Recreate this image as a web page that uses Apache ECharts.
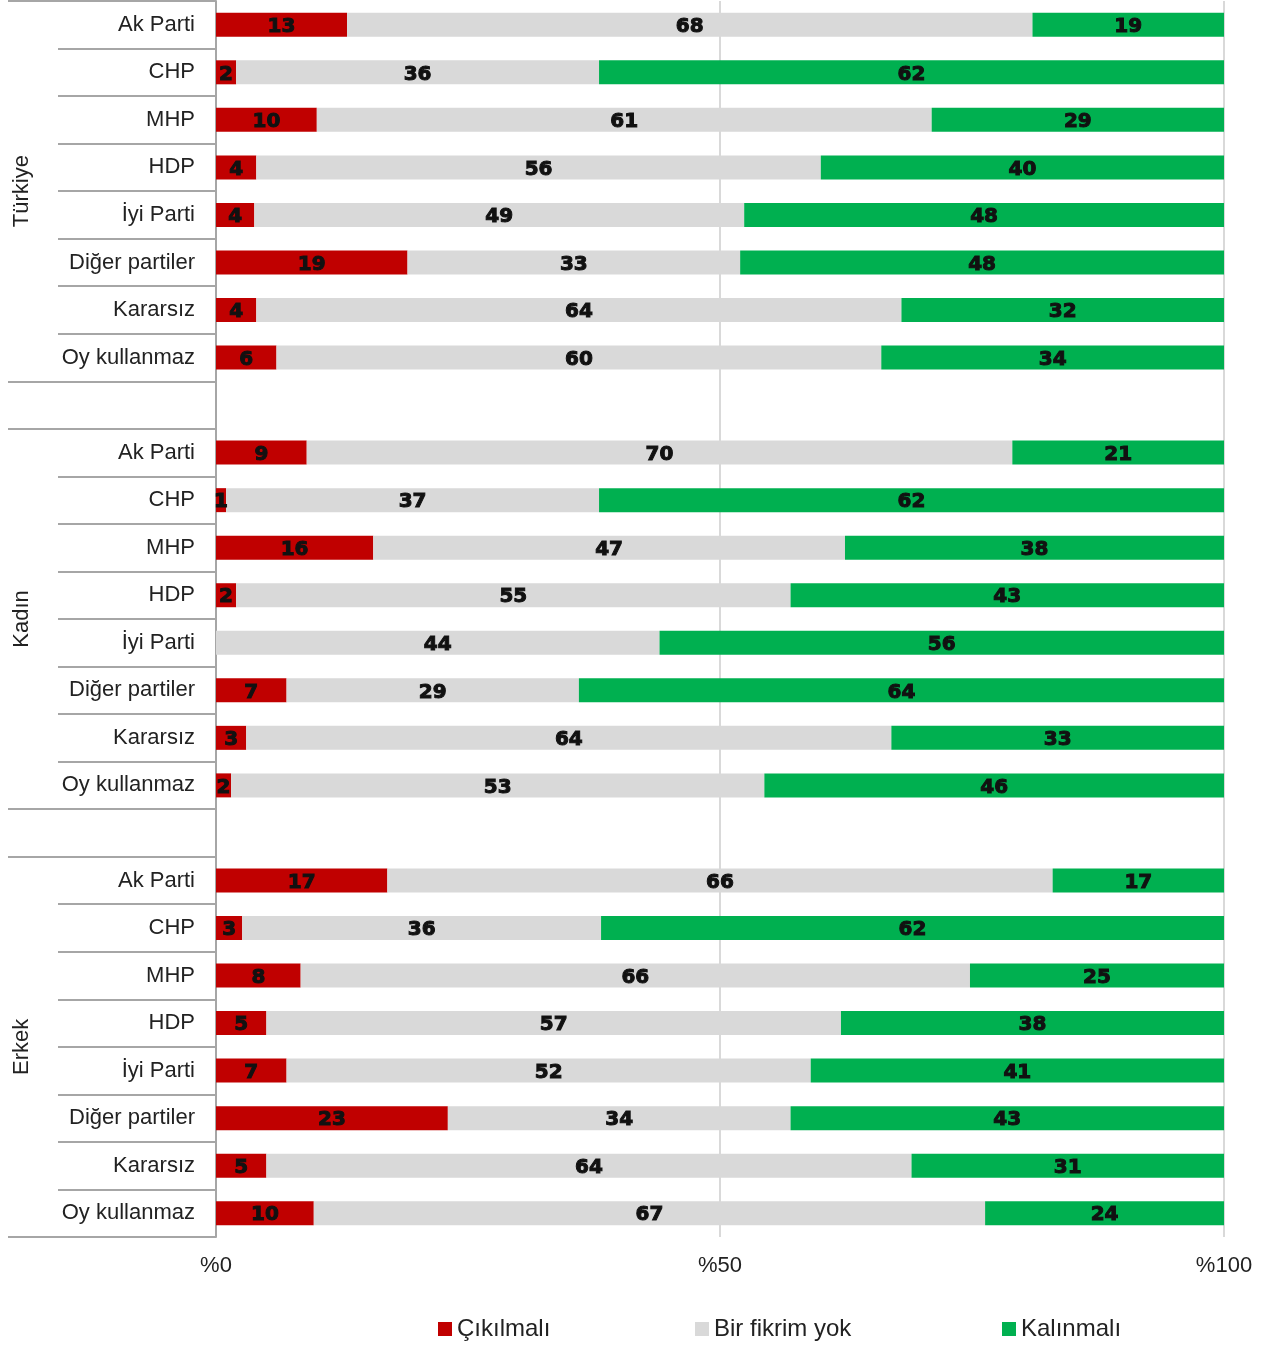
<!DOCTYPE html>
<html>
<head>
<meta charset="utf-8">
<script src="https://cdn.jsdelivr.net/npm/echarts@6/dist/echarts.min.js"></script>
<style>
  html, body { margin: 0; padding: 0; background: #fff; }
  #chart { width: 1272px; height: 1346px; }
</style>
</head>
<body>
<div id="chart"></div>
<script>
// ---- Data ----
const groups = ['Türkiye', 'Kadın', 'Erkek'];
const categories = ['Ak Parti', 'CHP', 'MHP', 'HDP', 'İyi Parti', 'Diğer partiler', 'Kararsız', 'Oy kullanmaz'];
const seriesNames = ['Çıkılmalı', 'Bir fikrim yok', 'Kalınmalı'];
const xTicks = [0, 50, 100];

const turkiyeCikilmali = [13, 2, 10, 4, 3.8, 19, 4, 6];
const turkiyeBirFikrim = [68, 36, 61, 56, 48.6, 33, 64, 60];
const turkiyeKalinmali = [19, 62, 29, 40, 47.6, 48, 32, 34];

const kadinCikilmali = [9, 1, 15.6, 2, 0, 7, 3, 1.5];
const kadinBirFikrim = [70, 37, 46.8, 55, 44, 29, 64, 52.9];
const kadinKalinmali = [21, 62, 37.6, 43, 56, 64, 33, 45.6];

const erkekCikilmali = [17, 2.6, 8.4, 5, 7, 23, 5, 9.7];
const erkekBirFikrim = [66, 35.6, 66.4, 57, 52, 34, 64, 66.6];
const erkekKalinmali = [17, 61.8, 25.2, 38, 41, 43, 31, 23.7];

const colors = ['#C00000', '#D9D9D9', '#00B050'];

// ---- Build rows (groups separated by a blank row) ----
const groupData = [
  [turkiyeCikilmali, turkiyeBirFikrim, turkiyeKalinmali],
  [kadinCikilmali, kadinBirFikrim, kadinKalinmali],
  [erkekCikilmali, erkekBirFikrim, erkekKalinmali]
];
const rowIds = [];
const seriesData = [[], [], []];
const groupStart = [];
const blankRows = [];
groups.forEach((g, gi) => {
  if (gi > 0) {
    const bi = rowIds.length;
    blankRows.push(bi);
    rowIds.push('blank' + gi + '|');
    seriesData.forEach(a => a.push('-'));
  }
  groupStart.push(rowIds.length);
  categories.forEach((c, ci) => {
    rowIds.push(g + '|' + c);
    for (let s = 0; s < 3; s++) seriesData[s].push(groupData[gi][s][ci]);
  });
});
const longTickIdx = new Set();
groupStart.forEach(i => longTickIdx.add(i));
blankRows.forEach(i => longTickIdx.add(i));

const chart = echarts.init(document.getElementById('chart'), null, { renderer: 'canvas' });

const labelFmt = p => {
  const v = p.value;
  if (v === '-' || v == null) return '';
  const r = Math.round(v);
  return r === 0 ? '' : String(r);
};

const option = {
  animation: false,
  grid: { left: 216, right: 48, top: 1, bottom: 109, containLabel: false },
  xAxis: {
    type: 'value', min: xTicks[0], max: xTicks[xTicks.length - 1], interval: 50,
    axisLine: { show: false }, axisTick: { show: false },
    axisLabel: { formatter: '%{value}', fontSize: 22, color: '#222', margin: 18, fontFamily: 'Liberation Sans' },
    splitLine: { show: true, lineStyle: { color: '#D9D9D9', width: 2 } }
  },
  yAxis: [
    {
      type: 'category', inverse: true, data: rowIds, position: 'left',
      axisLine: { show: true, lineStyle: { color: '#A6A6A6', width: 2 } },
      axisTick: {
        show: true, length: 158,
        interval: (idx) => !longTickIdx.has(idx),
        lineStyle: { color: '#A6A6A6', width: 2 }
      },
      axisLabel: {
        interval: 0, margin: 21, fontSize: 22, color: '#222', fontFamily: 'Liberation Sans',
        formatter: v => v.split('|')[1]
      }
    },
    {
      type: 'category', inverse: true, data: rowIds, position: 'left',
      axisLine: { show: false },
      axisTick: {
        show: true, length: 208,
        interval: (idx) => longTickIdx.has(idx),
        lineStyle: { color: '#A6A6A6', width: 2 }
      },
      axisLabel: { show: false }
    }
  ],
  legend: seriesNames.map((n, i) => ({
    data: [n],
    left: [438, 695, 1002][i],
    top: 1317,
    padding: 0,
    icon: 'rect', itemWidth: 14, itemHeight: 14, itemGap: 0,
    textStyle: { fontSize: 24, color: '#222', fontFamily: 'Liberation Sans' }
  })),
  series: seriesNames.map((n, i) => ({
    name: n, type: 'bar', stack: 'total', yAxisIndex: 0,
    barWidth: 24,
    itemStyle: { color: colors[i] },
    label: {
      show: true, position: 'inside', formatter: labelFmt, offset: [0, 2],
      fontSize: 20, fontWeight: 'bold', color: '#111', fontFamily: 'DejaVu Sans',
      textBorderColor: '#111', textBorderWidth: 1
    },
    data: seriesData[i]
  }))
};
chart.setOption(option);

// Group labels, centered on each group's rows
const graphics = groups.map((g, gi) => {
  const s = groupStart[gi];
  const yA = chart.convertToPixel({ yAxisIndex: 0 }, rowIds[s + 3]);
  const yB = chart.convertToPixel({ yAxisIndex: 0 }, rowIds[s + 4]);
  return {
    type: 'text', x: 22, y: (yA + yB) / 2, rotation: Math.PI / 2,
    style: { text: g, fontSize: 22, fill: '#222', fontFamily: 'Liberation Sans', align: 'center', verticalAlign: 'middle' }
  };
});
chart.setOption({ graphic: graphics });
</script>
</body>
</html>
